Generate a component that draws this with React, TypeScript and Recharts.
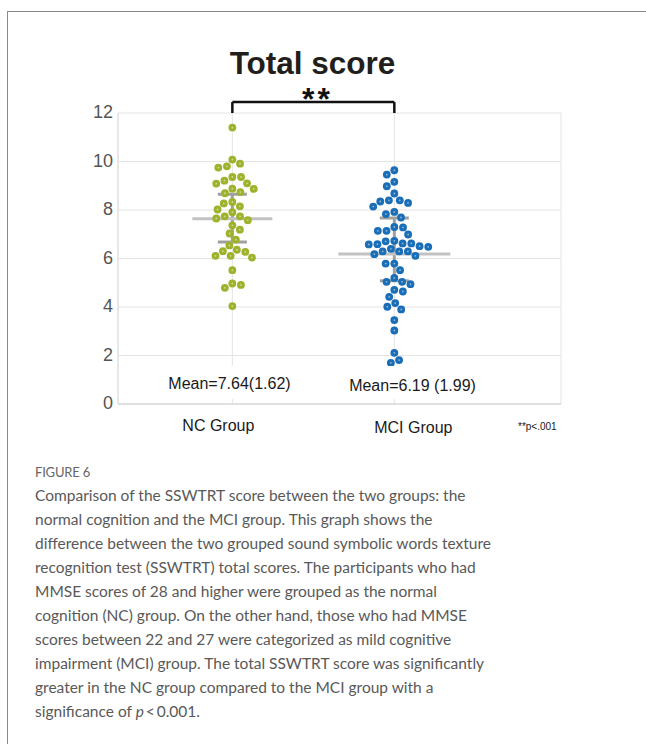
import { ScatterChart, Scatter, XAxis, YAxis, CartesianGrid, ErrorBar, ReferenceLine } from "recharts";

// groups on the x axis
const groups = ["NC Group", "MCI Group"];

// SSWTRT total score of every participant
const ncScores = [
  11.4, 10.08, 9.91, 9.8, 9.75, 9.36, 9.36, 9.21, 9.09, 9.1,
  8.87, 8.74, 8.88, 8.69, 8.33, 8.27, 8.15, 8.02, 7.91, 7.74,
  7.74, 7.65, 7.58, 7.37, 7.19, 7.03, 6.78, 6.54, 6.36, 6.3,
  6.27, 6.11, 6.04, 6.11, 5.52, 4.79, 4.91, 4.97, 4.04,
];
const mciScores = [
  9.64, 9.46, 9.16, 8.98, 8.68, 8.4, 8.29, 8.35, 8.4, 8.14,
  7.92, 7.83, 7.69, 7.3, 7.28, 7.14, 7.14, 6.99, 6.71, 6.62,
  6.58, 6.62, 6.59, 6.73, 6.48, 6.51, 6.4, 6.29, 6.18, 6.11,
  6.29, 6.29, 5.79, 5.79, 5.52, 5.2, 5.04, 4.94, 5.04, 4.64,
  4.71, 4.42, 4.01, 3.9, 4.16, 3.46, 3.03, 2.11, 1.7, 1.81,
];

// summary per group
const groupMeans = [7.64, 6.19];
const groupSDs = [1.62, 1.99];
const whiskerHigh = [8.65, 7.67];
const whiskerLow = [6.68, 5.08];
const meanLabels = [`Mean=${groupMeans[0]}(${groupSDs[0]})`, `Mean=${groupMeans[1]} (${groupSDs[1]})`];

const yTicks = [0, 2, 4, 6, 8, 10, 12];
const bracketTop = 12.45;

// layout
const W = 646;
const H = 440;
const MARGIN = { top: 113, right: 85, bottom: 6, left: 58 };
const Y_AXIS_W = 60;
const X_AXIS_H = 30;
const X_DOMAIN: [number, number] = [0.294, 3.029];
const PX_PER_X = (W - MARGIN.left - Y_AXIS_W - MARGIN.right) / (X_DOMAIN[1] - X_DOMAIN[0]);
const PX_PER_Y = (H - MARGIN.top - MARGIN.bottom - X_AXIS_H) / 12;
const DOT_R = 3.9;
const DOT_GAP = 8.7;
const COLORS = ["#9fb22c", "#1a6db7"];
const MEAN_HALF = [40, 56];
const FONT = "'Liberation Sans', Arial, sans-serif";

// simple beeswarm: each dot goes to the free spot closest to the centre line
function beeswarm(values: number[]): number[] {
  const order = values.map((_, i) => i).sort((a, b) => values[b] - values[a]);
  const placed: { x: number; y: number }[] = [];
  const out = new Array(values.length).fill(0);
  order.forEach((i, k) => {
    const y = values[i] * PX_PER_Y;
    const spans: [number, number][] = [];
    placed.forEach((p) => {
      const dy = Math.abs(p.y - y);
      if (dy < DOT_GAP) {
        const dx = Math.sqrt(DOT_GAP * DOT_GAP - dy * dy);
        spans.push([p.x - dx, p.x + dx]);
      }
    });
    const cands = [0];
    spans.forEach(([a, b]) => cands.push(a, b));
    const side = k % 2 === 0 ? 1 : -1;
    cands.sort((a, b) => Math.abs(a) - Math.abs(b) || (b - a) * side);
    const x = cands.find((c) => spans.every(([a, b]) => c <= a + 1e-6 || c >= b - 1e-6)) ?? 0;
    placed.push({ x, y });
    out[i] = x;
  });
  return out;
}

const toPoints = (scores: number[], gi: number) => {
  const offs = beeswarm(scores);
  return scores.map((s, i) => ({ x: gi + 1 + offs[i] / PX_PER_X, y: s }));
};

const ncData = toPoints(ncScores, 0);
const mciData = toPoints(mciScores, 1);
const summaryData = groups.map((g, i) => ({
  x: i + 1,
  y: groupMeans[i],
  gi: i,
  err: [groupMeans[i] - whiskerLow[i], whiskerHigh[i] - groupMeans[i]],
}));

const Dot = (color: string) => (props: any) => (
  <g>
    <circle cx={props.cx} cy={props.cy} r={DOT_R} fill={color} />
    <circle cx={props.cx} cy={props.cy} r={0.9} fill="#fff" opacity={0.5} />
  </g>
);

const MeanLine = (props: any) => {
  const hw = MEAN_HALF[props.payload.gi];
  return <line x1={props.cx - hw} x2={props.cx + hw} y1={props.cy} y2={props.cy} stroke="#c2c2c2" strokeWidth={3} />;
};

const LABEL_SHIFT = [{ dx: -14, dy: 27 }, { dx: 19, dy: 29 }];
const GroupTick = (props: any) => {
  const i = props.payload.value === 1 ? 0 : 1;
  const s = LABEL_SHIFT[i];
  return (
    <text x={props.x + s.dx} y={props.y + s.dy} textAnchor="middle" fontSize={16} fontFamily={FONT} fill="#1a1a1a">
      {groups[i]}
    </text>
  );
};

const captionLines = [
  "Comparison of the SSWTRT score between the two groups: the",
  "normal cognition and the MCI group. This graph shows the",
  "difference between the two grouped sound symbolic words texture",
  "recognition test (SSWTRT) total scores. The participants who had",
  "MMSE scores of 28 and higher were grouped as the normal",
  "cognition (NC) group. On the other hand, those who had MMSE",
  "scores between 22 and 27 were categorized as mild cognitive",
  "impairment (MCI) group. The total SSWTRT score was significantly",
  "greater in the NC group compared to the MCI group with a",
];

export default function App() {
  return (
    <div>
      <div
        style={{
          position: "absolute", left: 7, top: 11, width: 639, height: 733, boxSizing: "border-box",
          borderLeft: "1px solid #8a8a8a", borderTop: "1px solid #8a8a8a",
        }}
      />
      <div style={{ position: "absolute", left: 0, top: 0, width: W, height: H }}>
        <ScatterChart width={W} height={H} margin={MARGIN}>
          <CartesianGrid stroke="#e4e4e4" strokeWidth={1} />
          <XAxis
            type="number" dataKey="x" domain={X_DOMAIN} ticks={[1, 2]} allowDataOverflow
            height={X_AXIS_H} tickLine={false} tickSize={0} tickMargin={0}
            axisLine={{ stroke: "#cfcfcf" }} tick={<GroupTick />}
          />
          <YAxis
            type="number" dataKey="y" domain={[0, 12]} ticks={yTicks} width={Y_AXIS_W}
            tickLine={false} tickSize={4} tickMargin={1} axisLine={{ stroke: "#dddddd" }}
            tick={{ fill: "#555", fontSize: 18, fontFamily: FONT, dy: -1 }}
          />
          <ReferenceLine segment={[{ x: 1, y: 12 }, { x: 1, y: bracketTop }]} stroke="#111" strokeWidth={2.5} ifOverflow="visible" />
          <ReferenceLine segment={[{ x: 1, y: bracketTop }, { x: 2, y: bracketTop }]} stroke="#111" strokeWidth={2.5} ifOverflow="visible" />
          <ReferenceLine segment={[{ x: 2, y: bracketTop }, { x: 2, y: 12 }]} stroke="#111" strokeWidth={2.5} ifOverflow="visible" />
          <Scatter data={summaryData} shape={MeanLine} isAnimationActive={false}>
            <ErrorBar dataKey="err" direction="y" width={14.5} strokeWidth={3} stroke="#a0a0a0" isAnimationActive={false} />
          </Scatter>
          <Scatter data={ncData} shape={Dot(COLORS[0])} isAnimationActive={false} />
          <Scatter data={mciData} shape={Dot(COLORS[1])} isAnimationActive={false} />
        </ScatterChart>
      </div>
      <svg width={W} height={H} style={{ position: "absolute", left: 0, top: 0, pointerEvents: "none" }}>
        <text x={312.5} y={73.5} textAnchor="middle" fontSize={31.5} fontWeight="bold" fontFamily={FONT} fill="#221e1c">
          Total score
        </text>
        <text x={317.5} y={110} textAnchor="middle" fontSize={32} fontWeight="bold" letterSpacing={3} fontFamily={FONT} fill="#111">
          **
        </text>
        <rect x={160} y={366} width={143} height={33} fill="#fff" />
        <rect x={338} y={366} width={149} height={33} fill="#fff" />
        <text x={229.5} y={389} textAnchor="middle" fontSize={16} fontFamily={FONT} fill="#1a1a1a">
          {meanLabels[0]}
        </text>
        <text x={412.5} y={390.7} textAnchor="middle" fontSize={16} fontFamily={FONT} fill="#1a1a1a">
          {meanLabels[1]}
        </text>
        <text x={518} y={430} fontSize={10} fontFamily={FONT} fill="#1a1a1a">
          **p&lt;.001
        </text>
      </svg>
      <div
        style={{
          position: "absolute", left: 35, top: 464, fontFamily: "Lato, sans-serif", fontSize: 13,
          fontWeight: 400, color: "#666", lineHeight: "16px", letterSpacing: -0.2,
        }}
      >
        FIGURE 6
      </div>
      <div
        style={{
          position: "absolute", left: 35, top: 483, fontFamily: "Lato, sans-serif", fontSize: 15.5,
          color: "#595959", lineHeight: "24px", whiteSpace: "nowrap",
        }}
      >
        {captionLines.map((l) => (
          <div key={l}>{l}</div>
        ))}
        <div>
          significance of <i>p</i>{"\u2009<\u20090.001."}
        </div>
      </div>
    </div>
  );
}
